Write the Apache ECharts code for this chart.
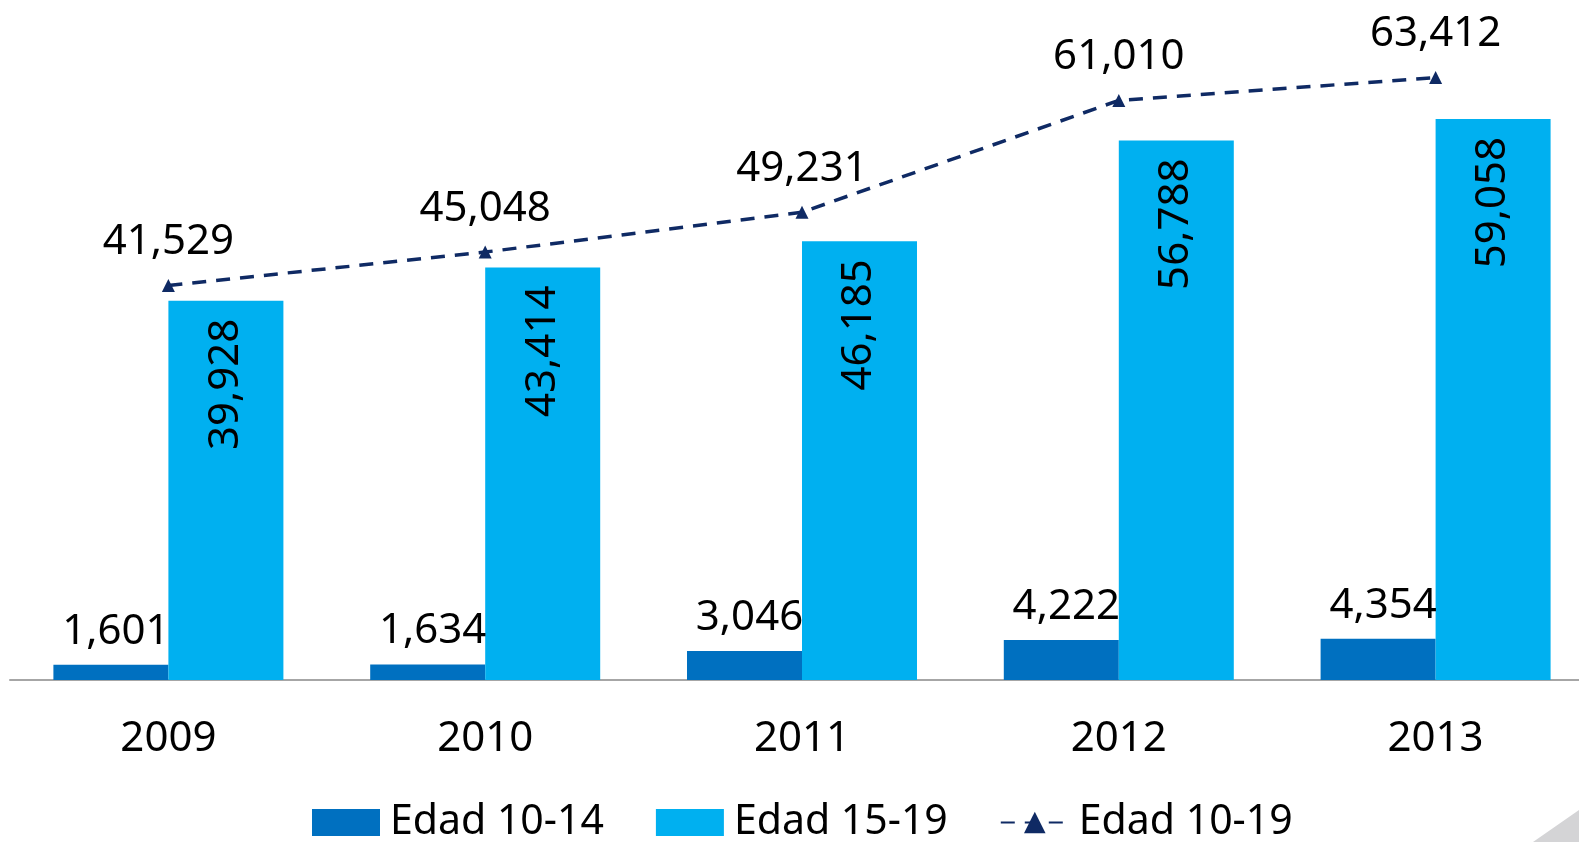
<!DOCTYPE html>
<html>
<head>
<meta charset="utf-8">
<script src="https://cdn.jsdelivr.net/npm/echarts@6/dist/echarts.min.js"></script>
<style>
html,body{margin:0;padding:0;background:#fff;}
#c{width:1579px;height:842px;}
</style>
</head>
<body>
<div id="c"></div>
<script>
const categories = ['2009', '2010', '2011', '2012', '2013'];
const edad1014 = [1601, 1634, 3046, 4222, 4354];
const edad1519 = [39928, 43414, 46185, 56788, 59058];
const edad1019 = [41529, 45048, 49231, 61010, 63412];
const seriesNames = ['Edad 10-14', 'Edad 15-19', 'Edad 10-19'];

const FONT = 'Noto Sans';
const fmt = v => v.toLocaleString('en-US');

const chart = echarts.init(document.getElementById('c'));
chart.setOption({
  animation: false,
  textStyle: { fontFamily: FONT },
  grid: { left: 10, width: 1584, top: 15, bottom: 162, containLabel: false, outerBoundsMode: 'none' },
  xAxis: {
    type: 'category',
    data: categories,
    axisLine: { lineStyle: { color: '#a6a6a6', width: 2 } },
    axisTick: { show: false },
    axisLabel: { color: '#000', fontSize: 42, fontFamily: FONT, margin: 38 }
  },
  yAxis: {
    type: 'value',
    min: 0, max: 70000,
    show: false,
    splitLine: { show: false }
  },
  legend: {
    top: 802,
    left: 312,
    padding: 0,
    itemWidth: 68,
    itemHeight: 27,
    itemGap: 52,
    textStyle: { color: '#000', fontSize: 41, fontFamily: FONT, padding: [0, 0, 0, 5] },
    data: [
      { name: seriesNames[0], icon: 'rect' },
      { name: seriesNames[1], icon: 'rect' },
      { name: seriesNames[2] }
    ]
  },
  series: [
    {
      name: seriesNames[0],
      type: 'bar',
      data: edad1014,
      barWidth: 115,
      barGap: '0%',
      itemStyle: { color: '#0070C0' },
      label: {
        show: true, position: 'top', distance: 12, offset: [5, 0],
        color: '#000', fontSize: 42, fontFamily: FONT,
        formatter: p => fmt(p.value)
      }
    },
    {
      name: seriesNames[1],
      type: 'bar',
      data: edad1519,
      barWidth: 115,
      barGap: '0%',
      itemStyle: { color: '#00B0F0' },
      label: {
        show: true, position: 'insideTop', rotate: 90,
        align: 'right', verticalAlign: 'middle', distance: 18,
        color: '#000', fontSize: 42, fontFamily: FONT,
        formatter: p => fmt(p.value)
      }
    },
    {
      name: seriesNames[2],
      type: 'line',
      data: edad1019,
      symbol: 'triangle',
      symbolSize: 13,
      itemStyle: { color: '#0F2A64' },
      lineStyle: { color: '#0F2A64', width: 3.5, type: [14, 10] },
      label: {
        show: true, position: 'top', distance: 16,
        color: '#000', fontSize: 42, fontFamily: FONT,
        formatter: p => fmt(p.value)
      },
      z: 5
    }
  ],
  graphic: [
    {
      type: 'polygon',
      shape: { points: [[1533, 842], [1579, 810], [1579, 842]] },
      style: { fill: '#d4d4d6' },
      silent: true
    }
  ]
});
</script>
</body>
</html>
